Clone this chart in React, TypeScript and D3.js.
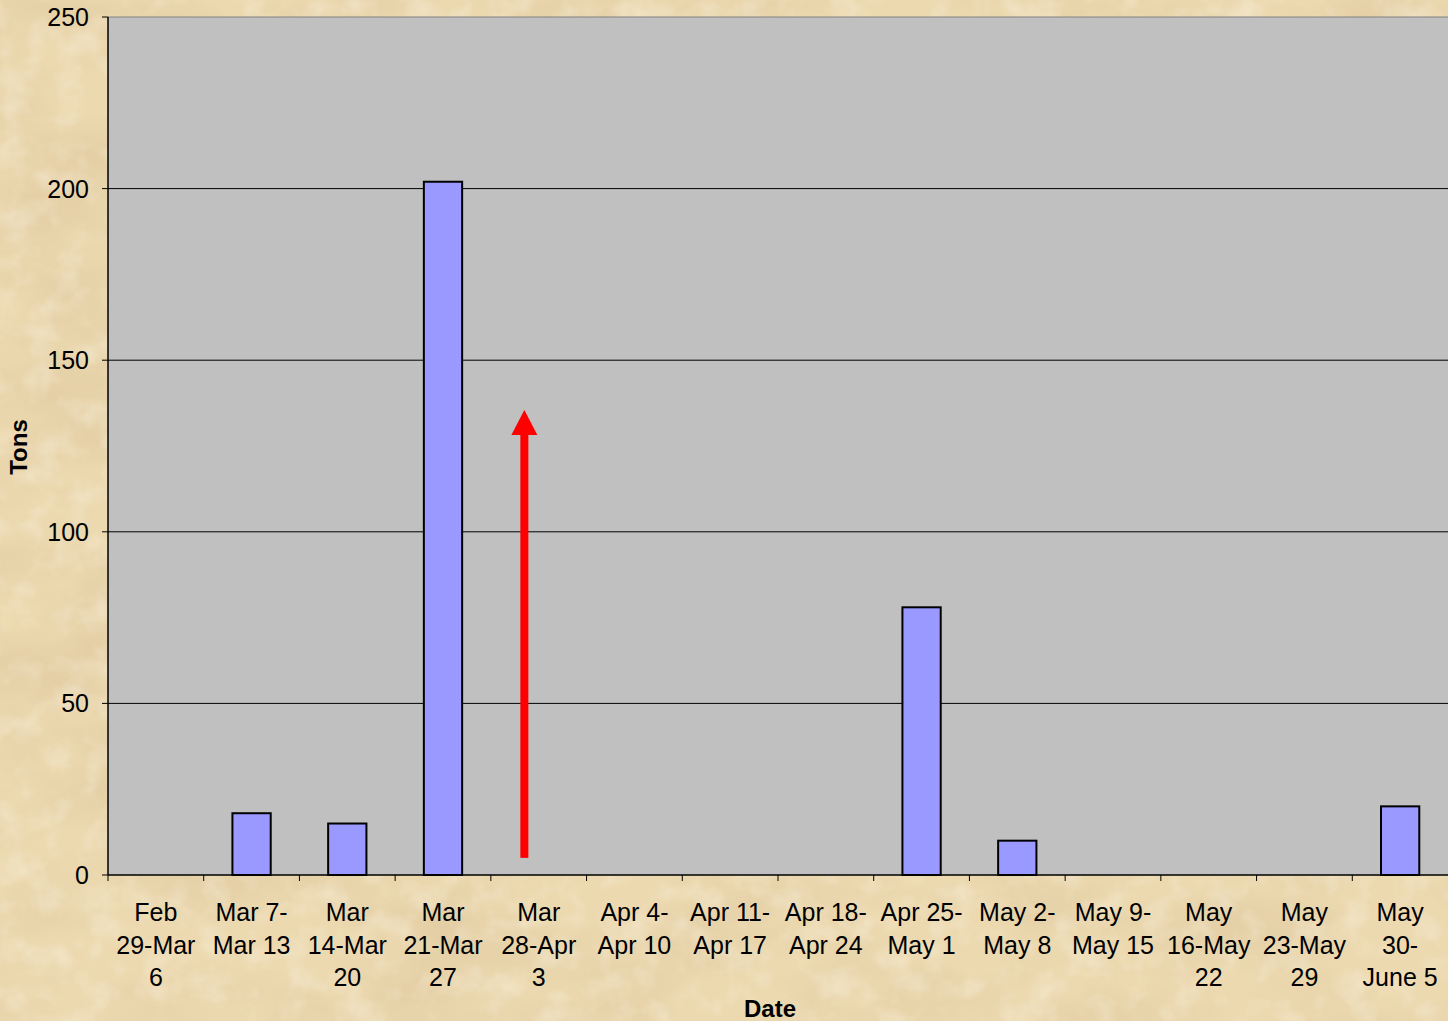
import React from 'react'
import * as d3 from 'd3'

// categories (week ranges), each already split into the lines Excel wrapped it to
const weekLabels: string[][] = [
  ['Feb', '29-Mar', '6'],
  ['Mar 7-', 'Mar 13'],
  ['Mar', '14-Mar', '20'],
  ['Mar', '21-Mar', '27'],
  ['Mar', '28-Apr', '3'],
  ['Apr 4-', 'Apr 10'],
  ['Apr 11-', 'Apr 17'],
  ['Apr 18-', 'Apr 24'],
  ['Apr 25-', 'May 1'],
  ['May 2-', 'May 8'],
  ['May 9-', 'May 15'],
  ['May', '16-May', '22'],
  ['May', '23-May', '29'],
  ['May', '30-', 'June 5'],
]
const tons = [0, 18, 15, 202, 0, 0, 0, 0, 78, 10, 0, 0, 0, 20]
const yTicks = [0, 50, 100, 150, 200, 250]

// red arrow annotation: week it sits in, and its start / tip in tons
const arrowWeek = 4
const arrowFrom = 5
const arrowTo = 135.5

const W = 1448
const H = 1021
const margin = { top: 17, right: 0, bottom: 146, left: 108 }

export default function App() {
  const innerW = W - margin.left - margin.right
  const innerH = H - margin.top - margin.bottom
  const keys = weekLabels.map((d) => d.join(' '))

  const x = d3.scaleBand<string>().domain(keys).range([0, innerW])
  const y = d3.scaleLinear().domain([0, 250]).range([innerH, 0])
  const bw = x.bandwidth()
  const barW = bw * 0.4

  const ax = (x(keys[arrowWeek]) as number) + bw * 0.35
  const headLen = 25
  const tipY = y(arrowTo)
  const baseY = tipY + headLen

  const font = 'Arial, "Liberation Sans", sans-serif'

  return (
    <svg
      width={W}
      height={H}
      style={{ position: 'absolute', left: 0, top: 0, display: 'block' }}
      fontFamily={font}
    >
      <defs>
        <filter id="parchment" x="0" y="0" width="100%" height="100%">
          <feTurbulence type="fractalNoise" baseFrequency="0.006 0.011" numOctaves={4} seed={7} result="n" />
          <feColorMatrix
            in="n"
            type="matrix"
            values="0 0 0 0 0.72  0 0 0 0 0.56  0 0 0 0 0.33  1.3 0 0 0 -0.52"
          />
        </filter>
        <filter id="speck" x="0" y="0" width="100%" height="100%">
          <feTurbulence type="fractalNoise" baseFrequency="0.035" numOctaves={3} seed={3} result="s" />
          <feColorMatrix
            in="s"
            type="matrix"
            values="0 0 0 0 0.98  0 0 0 0 0.94  0 0 0 0 0.84  0 1.1 0 0 -0.5"
          />
        </filter>
      </defs>
      <rect width={W} height={H} fill="#ecd9b0" />
      <rect width={W} height={H} filter="url(#parchment)" />
      <rect width={W} height={H} filter="url(#speck)" opacity={0.7} />

      <g transform={`translate(${margin.left},${margin.top})`}>
        <rect width={innerW} height={innerH} fill="#c0c0c0" />
        {yTicks.slice(1).map((t) => (
          <line key={t} x1={0} x2={innerW} y1={y(t)} y2={y(t)} stroke={t === 250 ? '#808080' : '#000'} strokeWidth={1} />
        ))}

        {tons.map((v, i) =>
          v > 0 ? (
            <rect
              key={i}
              x={(x(keys[i]) as number) + (bw - barW) / 2}
              y={y(v)}
              width={barW}
              height={innerH - y(v)}
              fill="#9999ff"
              stroke="#000"
              strokeWidth={2}
            />
          ) : null
        )}

        {/* arrow */}
        <rect x={ax - 4} y={baseY - 1} width={8} height={y(arrowFrom) - baseY + 1} fill="#ff0000" />
        <path d={`M${ax},${tipY} L${ax + 13},${baseY} L${ax - 13},${baseY} Z`} fill="#ff0000" />

        {/* y axis */}
        <line x1={0} x2={0} y1={0} y2={innerH} stroke="#000" strokeWidth={1.5} />
        {yTicks.map((t) => (
          <g key={t} transform={`translate(0,${y(t)})`}>
            <line x1={-6} x2={0} stroke="#000" />
            <text x={-19} dy={9} textAnchor="end" fontSize={25} fill="#000">
              {t}
            </text>
          </g>
        ))}

        {/* x axis */}
        <line x1={0} x2={innerW} y1={innerH} y2={innerH} stroke="#000" strokeWidth={1.5} />
        {keys.map((k) => (
          <line key={k} x1={x(k) as number} x2={x(k) as number} y1={innerH} y2={innerH + 6} stroke="#000" />
        ))}
        {keys.map((k, i) => (
          <text key={k} textAnchor="middle" fontSize={25} fill="#000">
            {weekLabels[i].map((ln, j) => (
              <tspan key={j} x={(x(k) as number) + bw / 2} y={innerH + 46 + j * 32.5}>
                {ln}
              </tspan>
            ))}
          </text>
        ))}
      </g>

      <text x={770} y={1017} textAnchor="middle" fontSize={24} fontWeight="bold">
        Date
      </text>
      <text transform="translate(27,447) rotate(-90)" textAnchor="middle" fontSize={24} fontWeight="bold">
        Tons
      </text>
    </svg>
  )
}
